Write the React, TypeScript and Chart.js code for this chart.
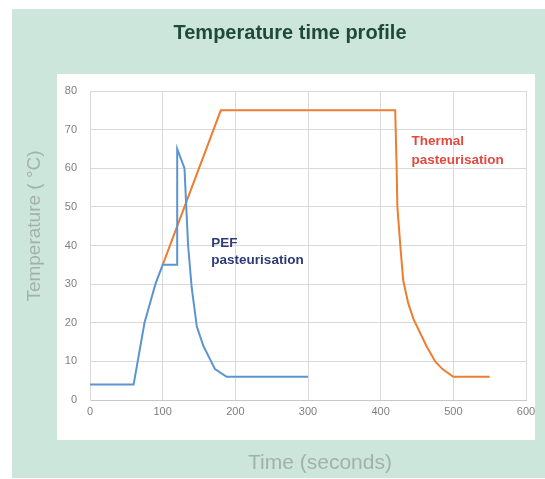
import React, { useEffect, useRef } from 'react';
import { Chart, registerables } from 'chart.js';

Chart.register(...registerables);

const chartTitle = 'Temperature time profile';
const xAxisTitle = 'Time (seconds)';
const yAxisTitle = 'Temperature ( °C)';

const pefTime = [0, 60, 75, 90, 100, 120, 120, 130, 135, 140, 147, 156, 172, 188, 300];
const pefTemp = [4, 4, 20, 30, 35, 35, 65, 60, 40, 29, 19, 14, 8, 6, 6];

const thermalTime = [100, 180, 420, 422, 423, 427, 431, 438, 445, 463, 475, 485, 500, 550];
const thermalTemp = [35, 75, 75, 60, 50, 40, 31, 25, 21, 14, 10, 8, 6, 6];

const pefLabel = ['PEF', 'pasteurisation'];
const pefLabelAt = { x: 167, y: 40.6 };
const thermalLabel = ['Thermal', 'pasteurisation'];
const thermalLabelAt = { x: 442.5, y: 67 };

const FONT = '"Liberation Sans", Arial, sans-serif';

const decorPlugin = {
  id: 'decor',
  beforeDraw(chart: any) {
    const ctx = chart.ctx;
    ctx.save();
    ctx.fillStyle = '#ffffff';
    ctx.fillRect(0, 0, chart.width, chart.height);
    ctx.fillStyle = '#cde6dc';
    ctx.fillRect(12, 9, chart.width - 12, 469);
    ctx.fillStyle = '#ffffff';
    ctx.fillRect(57, 74, 478, 366);
    ctx.restore();
  },
  afterDraw(chart: any) {
    const ctx = chart.ctx;
    const xs = chart.scales.x;
    const ys = chart.scales.y;
    ctx.save();
    // Title
    ctx.fillStyle = '#1e4a37';
    ctx.font = 'bold 20px ' + FONT;
    ctx.textAlign = 'center';
    ctx.textBaseline = 'middle';
    ctx.fillText(chartTitle, 290, 33);
    // X title
    ctx.fillStyle = '#a3b1ab';
    ctx.font = '21px ' + FONT;
    ctx.fillText(xAxisTitle, 320, 463);
    // Y title
    ctx.font = '19px ' + FONT;
    ctx.save();
    ctx.translate(35, 226);
    ctx.rotate(-Math.PI / 2);
    ctx.fillText(yAxisTitle, 0, 0);
    ctx.restore();
    // Annotations
    ctx.textAlign = 'left';
    ctx.font = 'bold 13.5px ' + FONT;
    ctx.fillStyle = '#2d3b78';
    let px = xs.getPixelForValue(pefLabelAt.x);
    let py = ys.getPixelForValue(pefLabelAt.y);
    pefLabel.forEach((t, i) => ctx.fillText(t, px, py + i * 17));
    ctx.fillStyle = '#e2493f';
    px = xs.getPixelForValue(thermalLabelAt.x);
    py = ys.getPixelForValue(thermalLabelAt.y);
    thermalLabel.forEach((t, i) => ctx.fillText(t, px, py + i * 19));
    ctx.restore();
  },
};

export default function App() {
  const ref = useRef<HTMLCanvasElement>(null);
  useEffect(() => {
    if (!ref.current) return;
    const chart = new Chart(ref.current, {
      type: 'scatter',
      data: {
        datasets: [
          {
            label: 'PEF pasteurisation',
            data: pefTime.map((t, i) => ({ x: t, y: pefTemp[i] })),
            showLine: true,
            borderColor: '#5b95cf',
            backgroundColor: '#5b95cf',
            borderWidth: 2,
            pointRadius: 0,
            tension: 0,
          },
          {
            label: 'Thermal pasteurisation',
            data: thermalTime.map((t, i) => ({ x: t, y: thermalTemp[i] })),
            showLine: true,
            borderColor: '#ed7d31',
            backgroundColor: '#ed7d31',
            borderWidth: 2,
            pointRadius: 0,
            tension: 0,
          },
        ],
      },
      options: {
        animation: false,
        responsive: false,
        devicePixelRatio: 1,
        layout: { padding: { left: 0, right: 19, top: 91, bottom: 0 } },
        plugins: { legend: { display: false }, tooltip: { enabled: false }, title: { display: false } },
        scales: {
          x: {
            type: 'linear',
            min: 0,
            max: 600,
            ticks: { stepSize: 100, color: '#7f7f7f', font: { size: 11, family: FONT }, padding: 5, maxRotation: 0 },
            grid: { color: '#d9d9d9', drawTicks: false },
            border: { color: '#c8c8c8' },
            afterFit: (s: any) => { s.height = 79; },
          },
          y: {
            type: 'linear',
            min: 0,
            max: 80,
            ticks: { stepSize: 10, color: '#7f7f7f', font: { size: 11, family: FONT }, padding: 13 },
            grid: { color: '#d9d9d9', drawTicks: false },
            border: { color: '#d9d9d9' },
            afterFit: (s: any) => { s.width = 90; },
          },
        },
      },
      plugins: [decorPlugin],
    });
    return () => chart.destroy();
  }, []);
  return (
    <div style={{ position: 'absolute', left: 0, top: 0 }}>
      <canvas ref={ref} width={545} height={479} style={{ display: 'block' }} />
    </div>
  );
}
